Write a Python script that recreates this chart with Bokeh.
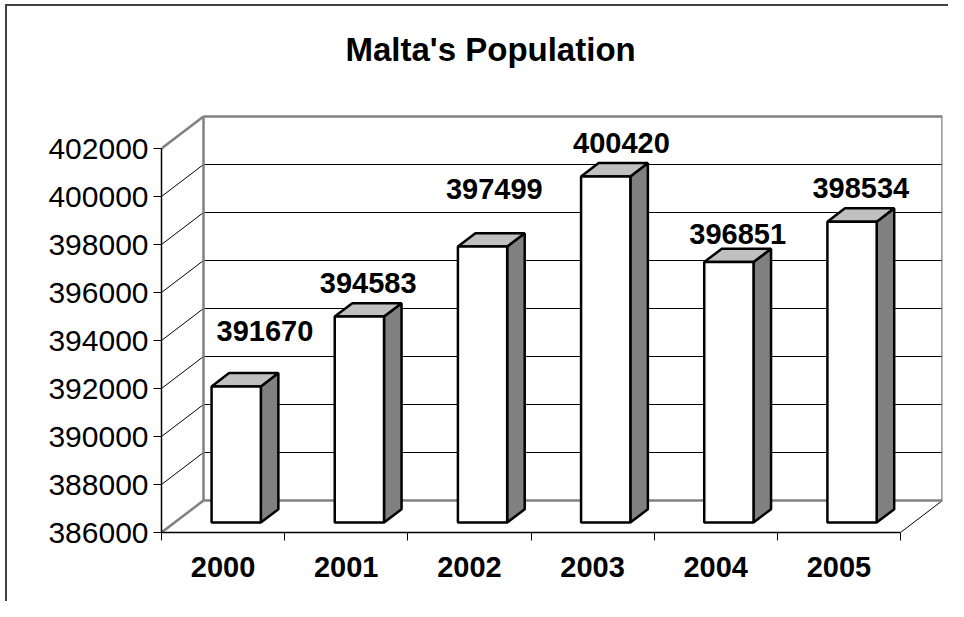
from bokeh.plotting import figure
from bokeh.models import FixedTicker, Range1d, ColumnDataSource, BasicTickFormatter
from bokeh.core.properties import value
from bokeh.embed import file_html
from bokeh.resources import INLINE

# ---------------- data ----------------
years = ["2000", "2001", "2002", "2003", "2004", "2005"]
population = [391670, 394583, 397499, 400420, 396851, 398534]
y_ticks = [386000, 388000, 390000, 392000, 394000, 396000, 398000, 400000, 402000]
title_text = "Malta's Population"

# ---------------- layout / style ----------------
FONT = "Liberation Sans"
W, H = 948, 601
TOP_PAD_PX = 36                   # white space inside the frame above the back wall
ML, MR, MT, MB = 161, 6, 116 - TOP_PAD_PX, 69
FW, FH = W - ML - MR, H - MT - MB
DEPTH_X_PX, DEPTH_Y_PX = 42, 32
n = len(years)
Y_MIN, Y_MAX = y_ticks[0], y_ticks[-1]

cat_px = (FW - DEPTH_X_PX) / n
val_px = (FH - TOP_PAD_PX - DEPTH_Y_PX) / (Y_MAX - Y_MIN)
DX = DEPTH_X_PX / cat_px          # depth offset in category units
DY = DEPTH_Y_PX / val_px          # depth offset in value units
TOP_PAD = TOP_PAD_PX / val_px

F1, F2 = 0.3125, 0.73             # bar depth span (fraction of full depth)
BAR_W = 0.4                       # gap width 150%
GRAY = "#808080"

# label nudges (pixels), as the labels were moved in the original chart
label_dx = [20, 0, 3, 7, 0, 0]
label_dy = [-22, 0, -24, 0, 5, 0]


def proj(x, v, f):
    return x + f * DX, v + f * DY


p = figure(width=W, height=H, output_backend="svg", toolbar_location=None,
           x_range=Range1d(0, n + DX),
           y_range=Range1d(Y_MIN, Y_MAX + DY + TOP_PAD),
           min_border_left=ML, min_border_right=MR, min_border_top=MT,
           min_border_bottom=MB, title=title_text)
p.outline_line_color = None
p.xgrid.visible = False
p.ygrid.visible = False
p.background_fill_color = "white"
p.border_fill_color = None
p.styles = {
    "background": ("linear-gradient(#404040, #404040) 5px 4px / 2px 100% no-repeat, "
                   "linear-gradient(#404040, #404040) 5px 4px / 100% 2px no-repeat, "
                   "white"),
}

# title
p.title.text_font = FONT
p.title.text_font_style = "bold"
p.title.text_font_size = "33px"
p.title.text_color = "black"
p.title.align = "left"
p.title.offset = 184
p.title.standoff = 26

# ---------------- walls ----------------
inner = y_ticks[1:-1]
gx0, gy0, gx1, gy1 = [], [], [], []
for t in inner:
    a = proj(0, t, 1); b = proj(n, t, 1)
    gx0.append(a[0]); gy0.append(a[1]); gx1.append(b[0]); gy1.append(b[1])
    gx0.append(0); gy0.append(t); gx1.append(a[0]); gy1.append(a[1])
c = proj(n, Y_MIN, 1)
gx0.append(n); gy0.append(Y_MIN); gx1.append(c[0]); gy1.append(c[1])
p.segment(gx0, gy0, gx1, gy1, line_color="black", line_width=1)

wx0, wy0, wx1, wy1 = [], [], [], []
for t in (Y_MIN, Y_MAX):
    a = proj(0, t, 1); b = proj(n, t, 1)
    wx0 += [a[0], 0]; wy0 += [a[1], t]; wx1 += [b[0], a[0]]; wy1 += [b[1], a[1]]
for xx in (0, n):
    a = proj(xx, Y_MIN, 1); b = proj(xx, Y_MAX, 1)
    wx0.append(a[0]); wy0.append(a[1]); wx1.append(b[0]); wy1.append(b[1])
p.segment(wx0, wy0, wx1, wy1, line_color=GRAY, line_width=2.5)

# ---------------- bars ----------------
left, right, bottom, top = [], [], [], []
top_xs, top_ys, side_xs, side_ys = [], [], [], []
for i, v in enumerate(population):
    x0 = i + 0.5 - BAR_W / 2
    x1 = i + 0.5 + BAR_W / 2
    fl = proj(x0, v, F1); fr = proj(x1, v, F1)
    br = proj(x1, v, F2); bl = proj(x0, v, F2)
    fb = proj(x1, Y_MIN, F1); bb = proj(x1, Y_MIN, F2)
    left.append(fl[0]); right.append(fr[0])
    bottom.append(proj(x0, Y_MIN, F1)[1]); top.append(fl[1])
    top_xs.append([fl[0], fr[0], br[0], bl[0]])
    top_ys.append([fl[1], fr[1], br[1], bl[1]])
    side_xs.append([fb[0], fr[0], br[0], bb[0]])
    side_ys.append([fb[1], fr[1], br[1], bb[1]])

p.patches(side_xs, side_ys, fill_color=GRAY, line_color="black", line_width=2.5)
p.patches(top_xs, top_ys, fill_color="#c0c0c0", line_color="black", line_width=2.5)
p.quad(left=left, right=right, bottom=bottom, top=top,
       fill_color="white", line_color="black", line_width=2.5)

# ---------------- data labels ----------------
lab = ColumnDataSource(dict(
    x=[i + 0.5 + (F1 + F2) / 2 * DX for i in range(n)],
    y=[v + F2 * DY for v in population],
    text=[str(v) for v in population],
    xo=label_dx,
    yo=[d - 20 for d in label_dy],
))
p.text(x="x", y="y", text="text", x_offset="xo", y_offset="yo", source=lab,
       text_align="center", text_baseline="alphabetic",
       text_font=value(FONT), text_font_style="bold", text_font_size="29px",
       text_color="black")

# ---------------- axes ----------------
ya = p.yaxis[0]
ya.ticker = FixedTicker(ticks=y_ticks, minor_ticks=[])
ya.formatter = BasicTickFormatter(use_scientific=False)
ya.bounds = (Y_MIN, Y_MAX)
ya.major_tick_out = 8
ya.major_tick_in = 0
ya.minor_tick_out = 0
ya.minor_tick_in = 0
ya.major_label_standoff = 5
ya.major_label_text_font = FONT
ya.major_label_text_font_size = "30px"
ya.major_label_text_color = "black"
ya.axis_line_color = "black"
ya.axis_line_width = 1.5
ya.major_tick_line_color = "black"

xa = p.xaxis[0]
xa.ticker = FixedTicker(ticks=[i + 0.5 for i in range(n)],
                        minor_ticks=list(range(n + 1)))
xa.major_label_overrides = {i + 0.5: years[i] for i in range(n)}
xa.bounds = (0, n)
xa.major_tick_out = 0
xa.major_tick_in = 0
xa.minor_tick_out = 8
xa.minor_tick_in = 0
xa.minor_tick_line_color = "black"
xa.major_label_standoff = 16
xa.major_label_text_font = FONT
xa.major_label_text_font_style = "bold"
xa.major_label_text_font_size = "29px"
xa.major_label_text_color = "black"
xa.axis_line_color = "black"
xa.axis_line_width = 1.5

open("out.html", "w").write(file_html(p, INLINE))
